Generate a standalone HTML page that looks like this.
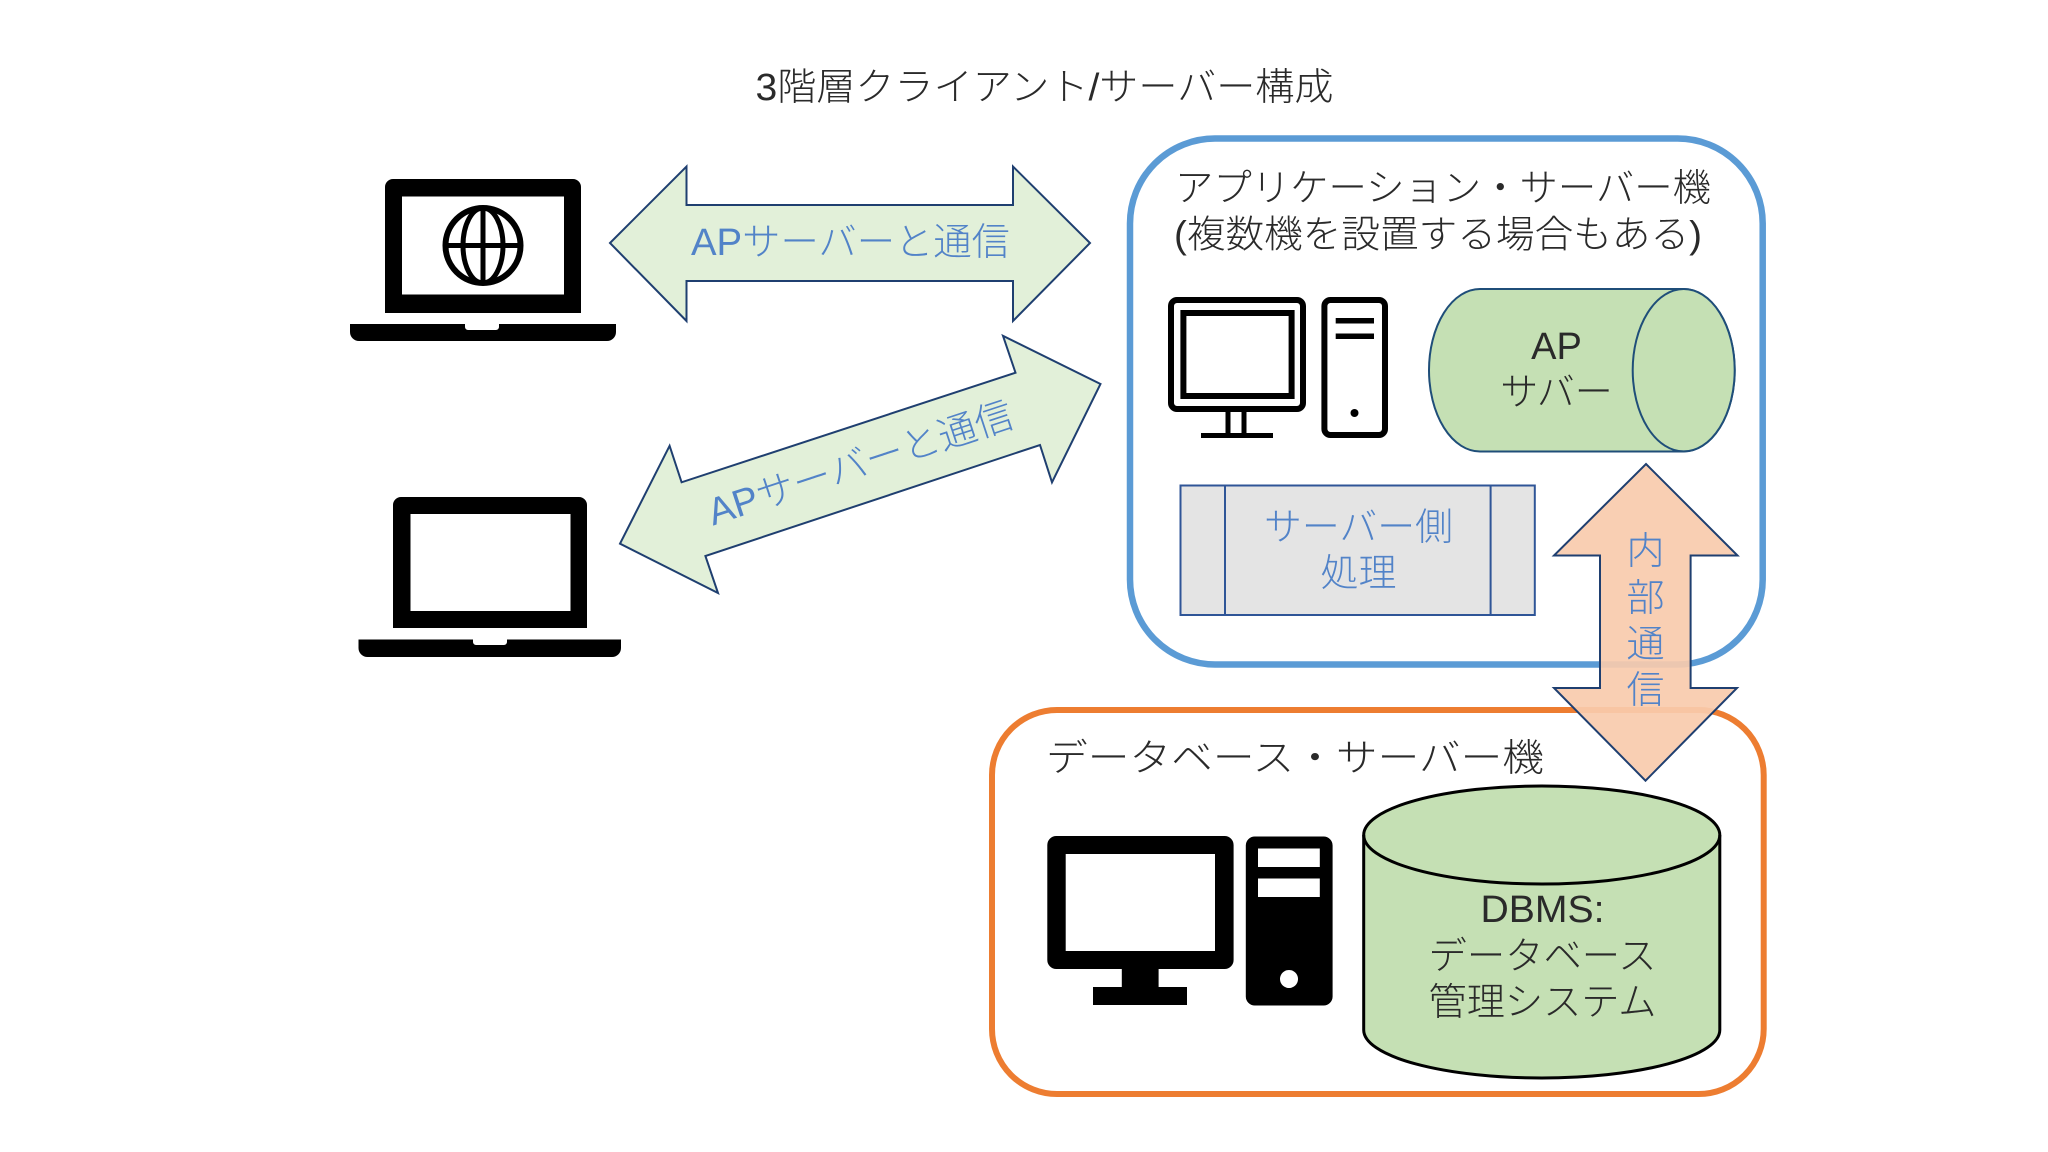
<!DOCTYPE html>
<html lang="ja"><head><meta charset="utf-8"><style>
html,body{margin:0;padding:0;background:#fff}
svg{display:block}
text{font-family:"Liberation Sans","Noto Sans CJK JP",sans-serif;font-weight:300;font-size:38px;fill:#2a2a2a}
.b{fill:#5283c8}
.m{text-anchor:middle}
</style></head><body>
<svg width="2048" height="1152" viewBox="0 0 2048 1152" xmlns="http://www.w3.org/2000/svg">
<rect width="2048" height="1152" fill="#fff"/>
<text x="755.500" y="100" textLength="578" lengthAdjust="spacingAndGlyphs">3階層クライアント/サーバー構成</text>

<!-- laptop 1 -->
<path fill-rule="evenodd" d="M385 313V187a8 8 0 0 1 8-8H573a8 8 0 0 1 8 8V313ZM402 196.500V294.500H564V196.500Z"/>
<path d="M350 324H465V327a3 3 0 0 0 3 3H496a3 3 0 0 0 3-3V324H616V332a9 9 0 0 1-9 9H359a9 9 0 0 1-9-9Z"/>
<g fill="none" stroke="#000" stroke-width="6">
<circle cx="483" cy="245.500" r="37.500"/>
<ellipse cx="483" cy="245.500" rx="20" ry="37.500" stroke-width="5"/>
<path d="M483 208V283M446 245.500H520" stroke-width="5"/>
</g>

<!-- laptop 2 -->
<path fill-rule="evenodd" d="M393 628V505a8 8 0 0 1 8-8H579a8 8 0 0 1 8 8V628ZM410.500 514V611H570.500V514Z"/>
<path d="M358.500 639.500H473V642a3 3 0 0 0 3 3H504a3 3 0 0 0 3-3V639.500H621V648a9 9 0 0 1-9 9H367.500a9 9 0 0 1-9-9Z"/>

<!-- arrow 1 -->
<path d="M610 243L686.500 166.500V205H1013V166.500L1090 243L1013 321V281H686.500V321Z" fill="#e2f0d9" stroke="#1f3f70" stroke-width="2"/>
<text class="b" x="691" y="255" textLength="319" lengthAdjust="spacingAndGlyphs">APサーバーと通信</text>

<!-- arrow 2 -->
<path d="M1100.500 384L1003 335.800L1015.500 372.700L681.600 482.300L669.600 445.800L620 543.700L718 593L705.400 556L1040 445L1052 482.300Z" fill="#e2f0d9" stroke="#1f3f70" stroke-width="2"/>
<text class="b" transform="translate(864 476) rotate(-18.200)" x="-159" y="0" textLength="319" lengthAdjust="spacingAndGlyphs">APサーバーと通信</text>

<!-- blue box -->
<rect x="1130" y="138.500" width="632.700" height="526" rx="85" ry="85" fill="none" stroke="#5b9bd5" stroke-width="6.500"/>
<text x="1175" y="201" textLength="536" lengthAdjust="spacingAndGlyphs">アプリケーション・サーバー機</text>
<text x="1174" y="247.500" textLength="528" lengthAdjust="spacingAndGlyphs">(複数機を設置する場合もある)</text>

<!-- computer 1 -->
<rect x="1171" y="300" width="132" height="109" rx="6" fill="#fff" stroke="#000" stroke-width="6"/>
<rect x="1183.400" y="313" width="108.200" height="83" fill="#fff" stroke="#000" stroke-width="6"/>
<path d="M1228 412V434M1244 412V434" stroke="#000" stroke-width="5" fill="none"/>
<rect x="1201" y="433" width="72" height="5"/>
<rect x="1324.400" y="300" width="60.600" height="135" rx="6" fill="#fff" stroke="#000" stroke-width="6"/>
<rect x="1335.700" y="318" width="38.300" height="5.500"/>
<rect x="1335.700" y="333.500" width="38.300" height="5.500"/>
<circle cx="1354.500" cy="413" r="4"/>

<!-- horizontal cylinder -->
<path d="M1480 289H1683.700A51 81.200 0 0 1 1683.700 451.500H1480A51 81.200 0 0 1 1480 289Z" fill="#c5e0b4" stroke="#1f4e79" stroke-width="2"/>
<ellipse cx="1683.700" cy="370.200" rx="51" ry="81.200" fill="#c5e0b4" stroke="#1f4e79" stroke-width="2"/>
<text class="m" x="1556.500" y="359">AP</text>
<text class="m" x="1556.500" y="405">サバー</text>

<!-- process box -->
<rect x="1180.500" y="485.500" width="354.300" height="129.500" fill="#e4e4e4" stroke="#2f5597" stroke-width="2"/>
<path d="M1225 485.500V615M1490.600 485.500V615" stroke="#2f5597" stroke-width="2"/>
<text class="b m" x="1358.500" y="540" textLength="189" lengthAdjust="spacingAndGlyphs">サーバー側</text>
<text class="b m" x="1358.500" y="586" textLength="76" lengthAdjust="spacingAndGlyphs">処理</text>

<!-- orange box -->
<rect x="992" y="710" width="771.700" height="384" rx="65" ry="65" fill="none" stroke="#ed7d31" stroke-width="6"/>
<text x="1046" y="771" textLength="498" lengthAdjust="spacingAndGlyphs">データベース・サーバー機</text>

<!-- computer 2 -->
<path fill-rule="evenodd" d="M1056.300 836H1224.600a9 9 0 0 1 9 9V960a9 9 0 0 1-9 9H1158.600V987H1187V1005H1093V987H1121.800V969H1056.300a9 9 0 0 1-9-9V845a9 9 0 0 1 9-9ZM1065.700 854V951H1215V854Z"/>
<path fill-rule="evenodd" d="M1254.800 836.500H1323.600a9 9 0 0 1 9 9V996.500a9 9 0 0 1-9 9H1254.800a9 9 0 0 1-9-9V845.500a9 9 0 0 1 9-9ZM1258 848.500V867H1319.800V848.500ZM1258 878.500V897H1319.800V878.500ZM1289 970a9 9 0 1 0 0.010 0Z"/>

<!-- DB cylinder -->
<path d="M1363.700 835A178 49 0 0 1 1719.800 835V1030A178 48 0 0 1 1363.700 1030Z" fill="#c5e0b4" stroke="#000" stroke-width="3"/>
<path d="M1363.700 835A178 49 0 0 0 1719.800 835" fill="none" stroke="#000" stroke-width="3"/>
<text class="m" x="1542.500" y="922" textLength="124" lengthAdjust="spacingAndGlyphs">DBMS:</text>
<text class="m" x="1542.500" y="969" textLength="228" lengthAdjust="spacingAndGlyphs">データベース</text>
<text class="m" x="1542.500" y="1015" textLength="228" lengthAdjust="spacingAndGlyphs">管理システム</text>

<!-- vertical double arrow -->
<path d="M1646 464L1737.500 555.500H1690.600V688H1737L1645.500 780.700L1554 688H1600V555.500H1554Z" fill="#f8cbad" fill-opacity=".92" stroke="#1f3f70" stroke-width="2"/>
<text class="b m" x="1645.500" y="564">内</text>
<text class="b m" x="1645.500" y="611">部</text>
<text class="b m" x="1645.500" y="657">通</text>
<text class="b m" x="1645.500" y="703">信</text>
</svg>
</body></html>
